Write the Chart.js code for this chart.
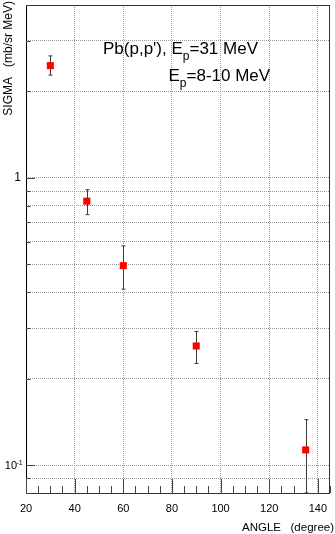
<!DOCTYPE html>
<html>
<head>
<meta charset="utf-8">
<script src="https://cdn.jsdelivr.net/npm/chart.js@4"></script>
<style>
html, body { margin: 0; padding: 0; background: #fff; }
#holder { width: 335px; height: 534px; }
</style>
</head>
<body>
<div id="holder"><canvas id="chartArea" width="335" height="534"></canvas></div>
<script>
// values
var angles = [30, 45, 60, 90, 135];
var sigma = [2.46, 0.83, 0.495, 0.26, 0.113];
var sigmaHi = [2.66, 0.91, 0.58, 0.292, 0.144];
var sigmaLo = [2.28, 0.745, 0.41, 0.226, 0.08];
var xTicks = [20, 40, 60, 80, 100, 120, 140];
var yTicks = [0.08, 0.09, 0.1, 0.2, 0.3, 0.4, 0.5, 0.6, 0.7, 0.8, 0.9, 1, 2, 3, 4];
var yMajor = [0.1, 1];

var FONT = "'Liberation Sans', Arial, Helvetica, sans-serif";

function drawParts(ctx, x, y, parts) {
    // parts: [text, size, dy]
    ctx.textAlign = 'left';
    ctx.textBaseline = 'alphabetic';
    for (var i = 0; i < parts.length; i++) {
        ctx.font = parts[i][1] + 'px ' + FONT;
        ctx.fillText(parts[i][0], x, y + parts[i][2]);
        x += ctx.measureText(parts[i][0]).width;
    }
}

var rootLook = {
    id: 'rootLook',
    beforeDatasetsDraw: function (chart) {
        var ctx = chart.ctx, xs = chart.scales.x, ys = chart.scales.y, a = chart.chartArea;
        ctx.save();
        ctx.beginPath();
        ctx.rect(a.left, a.top, a.right - a.left, a.bottom - a.top + 1);
        ctx.clip();
        ctx.strokeStyle = '#3a3a3a';
        ctx.lineWidth = 1;
        for (var i = 0; i < angles.length; i++) {
            var px = Math.round(xs.getPixelForValue(angles[i])) + 0.5;
            var yh = ys.getPixelForValue(sigmaHi[i]);
            var yl = ys.getPixelForValue(sigmaLo[i]);
            ctx.beginPath();
            ctx.moveTo(px, yh);
            ctx.lineTo(px, yl);
            ctx.moveTo(px - 2, yh);
            ctx.lineTo(px + 2, yh);
            ctx.moveTo(px - 2, yl);
            ctx.lineTo(px + 2, yl);
            ctx.stroke();
        }
        ctx.restore();
    },
    afterDraw: function (chart) {
        var ctx = chart.ctx, xs = chart.scales.x, ys = chart.scales.y, a = chart.chartArea;
        ctx.save();
        // frame
        ctx.strokeStyle = '#333';
        ctx.lineWidth = 1;
        ctx.strokeRect(a.left + 0.5, a.top + 0.5, a.right - a.left - 1, a.bottom - a.top);
        ctx.strokeStyle = '#000';
        ctx.beginPath();
        ctx.moveTo(a.left + 0.5, a.top);
        ctx.lineTo(a.left + 0.5, a.bottom);
        ctx.stroke();
        // x ticks, inside
        ctx.strokeStyle = '#444';
        ctx.beginPath();
        for (var v = 20; v <= 145; v += 5) {
            var px = Math.round(xs.getPixelForValue(v)) + 0.5;
            var len = (v % 20 === 0) ? 14 : 7;
            ctx.moveTo(px, a.bottom);
            ctx.lineTo(px, a.bottom - len);
        }
        ctx.stroke();
        // y ticks, inside
        ctx.beginPath();
        for (var j = 0; j < yTicks.length; j++) {
            var py = Math.round(ys.getPixelForValue(yTicks[j])) + 0.5;
            var ln = yMajor.indexOf(yTicks[j]) >= 0 ? 9 : 4.5;
            ctx.moveTo(a.left, py);
            ctx.lineTo(a.left + ln, py);
        }
        ctx.stroke();
        ctx.fillStyle = '#000';
        // 10^-1 label
        var p01 = ys.getPixelForValue(0.1);
        ctx.font = '11px ' + FONT;
        ctx.textAlign = 'right';
        ctx.textBaseline = 'alphabetic';
        ctx.fillText('10', 17, p01 + 4);
        ctx.font = '7px ' + FONT;
        ctx.textAlign = 'left';
        ctx.fillText('-1', 16.5, p01 - 0.5);
        // annotation
        drawParts(ctx, 103, 54, [['Pb(p,p\'), E', 17, 0], ['p', 12, 6], ['=31 MeV', 17, 0]]);
        drawParts(ctx, 168.5, 81, [['E', 17, 0], ['p', 12, 6], ['=8-10 MeV', 17, 0]]);
        // axis titles
        ctx.font = '11.5px ' + FONT;
        ctx.textAlign = 'right';
        ctx.fillText('ANGLE   (degree)', 334, 531);
        ctx.font = '12px ' + FONT;
        ctx.translate(12, 1);
        ctx.rotate(-Math.PI / 2);
        ctx.fillText('SIGMA   (mb/sr MeV)', 0, 0);
        ctx.restore();
    }
};

var config = {
    type: 'scatter',
    data: {
        datasets: [{
            data: angles.map(function (x, i) { return { x: x, y: sigma[i] }; }),
            pointStyle: 'rect',
            pointRadius: 5,
            pointHoverRadius: 5,
            pointBorderWidth: 0,
            backgroundColor: '#ff0000',
            borderColor: '#ff0000'
        }]
    },
    options: {
        responsive: false,
        animation: false,
        events: [],
        layout: { padding: { top: 2, right: 2, left: 0, bottom: 0 } },
        plugins: {
            legend: { display: false },
            tooltip: { enabled: false }
        },
        scales: {
            x: {
                type: 'linear',
                min: 20,
                max: 145,
                afterBuildTicks: function (scale) {
                    scale.ticks = xTicks.map(function (v) { return { value: v }; });
                },
                afterFit: function (scale) {
                    scale.height = 41;
                    scale.paddingLeft = 0;
                    scale.paddingRight = 0;
                },
                grid: { color: '#999', drawTicks: false, lineWidth: 1 },
                border: { display: false, dash: [1, 1] },
                ticks: {
                    padding: 9,
                    maxRotation: 0,
                    autoSkip: false,
                    color: '#000',
                    font: { family: FONT, size: 11 }
                }
            },
            y: {
                type: 'logarithmic',
                min: 0.08,
                max: 4,
                afterBuildTicks: function (scale) {
                    scale.ticks = yTicks.map(function (v) { return { value: v }; });
                },
                afterFit: function (scale) {
                    scale.width = 26;
                    scale.paddingTop = 0;
                    scale.paddingBottom = 0;
                },
                grid: { color: '#999', drawTicks: false, lineWidth: 1 },
                border: { display: false, dash: [1, 1] },
                ticks: {
                    padding: 5,
                    autoSkip: false,
                    color: '#000',
                    font: { family: FONT, size: 12 },
                    callback: function (v) { return v === 1 ? '1' : ''; }
                }
            }
        }
    },
    plugins: [rootLook]
};

var ctx = document.getElementById('chartArea').getContext('2d');
var myNewChart = new Chart(ctx, config);
</script>
</body>
</html>
